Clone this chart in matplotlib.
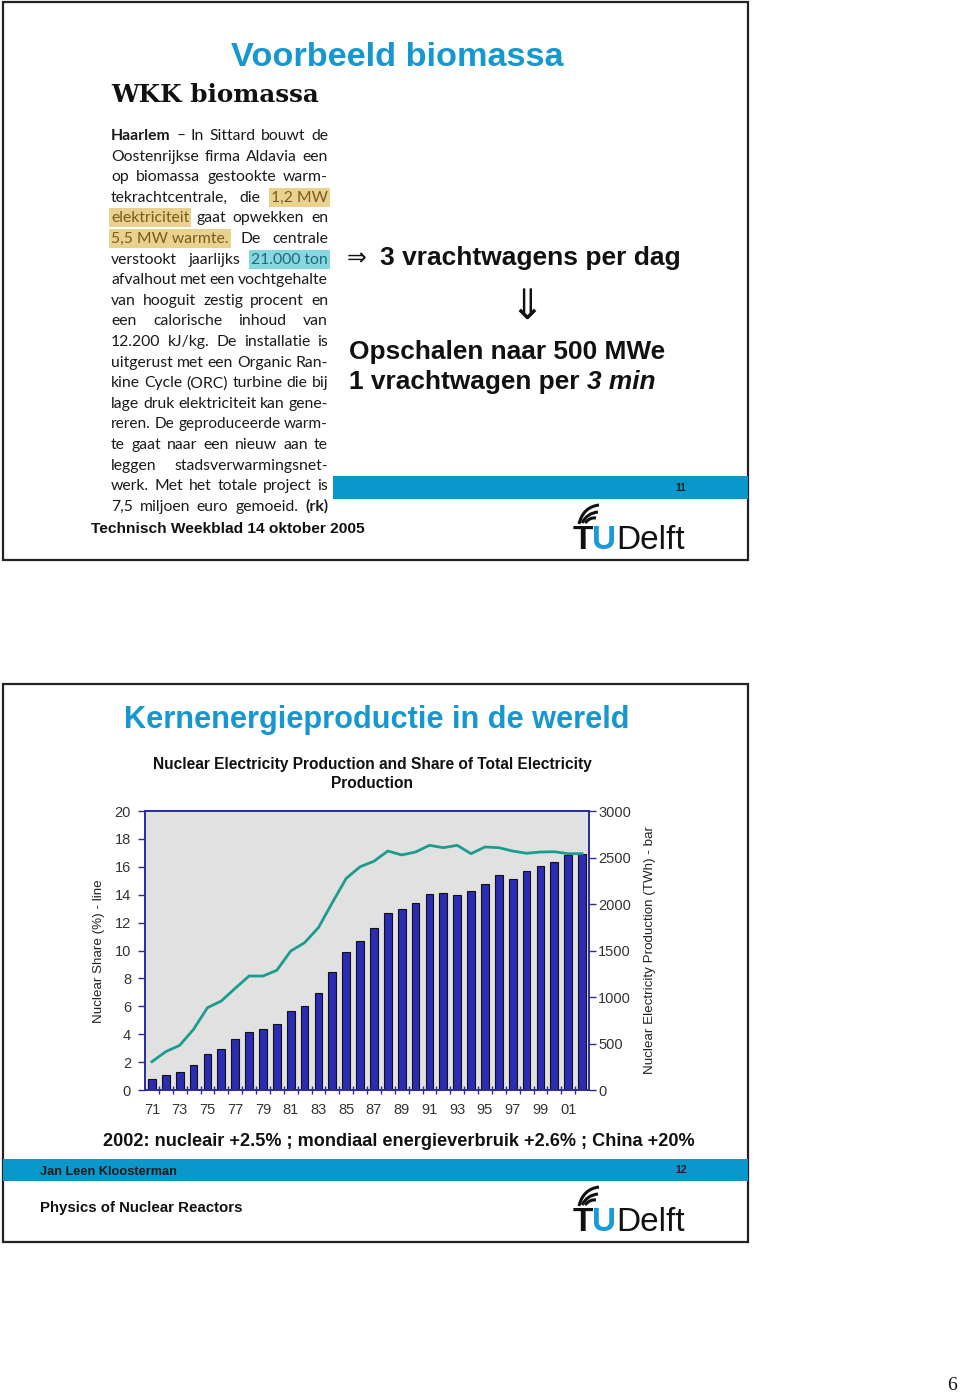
import matplotlib
matplotlib.use("Agg")
import matplotlib.pyplot as plt
from matplotlib.patches import Rectangle, PathPatch
from matplotlib.path import Path

# ---------------- data ----------------
years = list(range(1971, 2003))
production_twh = [115, 158, 197, 269, 387, 444, 545, 627, 656, 706, 853, 903,
                  1039, 1265, 1487, 1602, 1742, 1900, 1943, 2014, 2111, 2122,
                  2100, 2136, 2211, 2308, 2269, 2355, 2409, 2455, 2523, 2534]
share_pct = [2.03, 2.75, 3.2, 4.35, 5.9, 6.38, 7.29, 8.17, 8.17, 8.58, 9.96,
             10.56, 11.64, 13.43, 15.17, 16.0, 16.4, 17.13, 16.85, 17.06,
             17.54, 17.37, 17.54, 16.94, 17.42, 17.37, 17.13, 16.97, 17.06,
             17.08, 16.94, 16.94]
xtick_years = list(range(1971, 2002, 2))
xtick_labels = ["%02d" % (y % 100) for y in xtick_years]
left_ticks = list(range(0, 21, 2))
right_ticks = list(range(0, 3001, 500))

news_lines = [
    [("Haarlem", "b"), ("– In Sittard bouwt de", "n")],
    [("Oostenrijkse firma Aldavia een", "n")],
    [("op biomassa gestookte warm-", "n")],
    [("tekrachtcentrale, die", "n"), ("1,2 MW", "y")],
    [("elektriciteit", "y"), ("gaat opwekken en", "n")],
    [("5,5 MW warmte.", "y"), ("De centrale", "n")],
    [("verstookt jaarlijks", "n"), ("21.000 ton", "c")],
    [("afvalhout met een vochtgehalte", "n")],
    [("van hooguit zestig procent en", "n")],
    [("een calorische inhoud van", "n")],
    [("12.200 kJ/kg. De installatie is", "n")],
    [("uitgerust met een Organic Ran-", "n")],
    [("kine Cycle (ORC) turbine die bij", "n")],
    [("lage druk elektriciteit kan gene-", "n")],
    [("reren. De geproduceerde warm-", "n")],
    [("te gaat naar een nieuw aan te", "n")],
    [("leggen stadsverwarmingsnet-", "n")],
    [("werk. Met het totale project is", "n")],
    [("7,5 miljoen euro gemoeid.", "n"), ("(rk)", "b")],
]

BLUE = "#0a97cb"
TITLE_BLUE = "#1797cf"
SANS = ["Liberation Sans", "DejaVu Sans"]
NEWS = ["Lato", "DejaVu Sans"]

fig = plt.figure(figsize=(9.6, 13.94), dpi=100)
ax0 = fig.add_axes([0, 0, 1, 1])
ax0.set_xlim(0, 960)
ax0.set_ylim(1394, 0)
ax0.axis("off")
renderer = fig.canvas.get_renderer()


def width(t):
    return t.get_window_extent(renderer).width


def fit_text(x, y, s, target_w, ha="left", rot=0, **kw):
    t = ax0.text(x, y, s, ha=ha, va="center", **kw)
    w = width(t)
    t.set_fontsize(t.get_fontsize() * target_w / w)
    if rot:
        t.set_rotation(rot)
    return t


# ---------------- slide frames & bars ----------------
for y0 in (2, 684):
    ax0.add_patch(Rectangle((3, y0), 745, 558, fill=False, lw=1.6, ec="#222"))
ax0.add_patch(Rectangle((333, 476), 415, 23, fc=BLUE, ec="none"))
ax0.add_patch(Rectangle((3, 1159), 745, 22, fc=BLUE, ec="none"))

# ---------------- slide 1 ----------------
fit_text(397, 58, "Voorbeeld biomassa", 333, ha="center", fontsize=24,
         weight="bold", color=TITLE_BLUE, family=SANS)
fit_text(111, 95, "WKK biomassa", 208, fontsize=18, weight="heavy",
         color="#111", family=["DejaVu Serif"])

X0, X1 = 111, 328
probe = []
for toks in news_lines:
    s = " ".join(t for t, _ in toks)
    probe.append(ax0.text(0, 0, s, fontsize=10, family=NEWS))
widths = sorted(width(p) for p in probe)
for p in probe:
    p.remove()
ref_w = widths[int(len(widths) * 0.75)]
news_fs = 10 * (X1 - X0) / ref_w

for i, toks in enumerate(news_lines):
    y = 136 + i * 20.6
    units = []
    for txt, st in toks:
        if st in ("n", "b"):
            units += [(w, st) for w in txt.split()]
        else:
            units.append((txt, st))
    fs = news_fs
    for _ in range(6):
        objs = []
        for w, st in units:
            kw = dict(fontsize=fs, family=NEWS, va="center", ha="left",
                      color="#1a1a1a", zorder=3)
            if st == "b":
                kw["weight"] = "bold"
            if st == "y":
                kw["color"] = "#7a5a22"
            if st == "c":
                kw["color"] = "#1f6a74"
            t = ax0.text(0, y, w, **kw)
            objs.append((t, st, width(t)))
        total = sum(o[2] for o in objs)
        gap = (X1 - X0 - total) / max(len(objs) - 1, 1)
        if gap >= 3.2:
            break
        for o in objs:
            o[0].remove()
        fs *= 0.97
    x = X0
    for t, st, w in objs:
        t.set_x(x)
        if st == "y":
            ax0.add_patch(Rectangle((x - 2, y - 10), w + 4, 19, fc="#e8d28e",
                                    ec="none", zorder=2))
        if st == "c":
            ax0.add_patch(Rectangle((x - 2, y - 10), w + 4, 19, fc="#86d8e0",
                                    ec="none", zorder=2))
        x += w + gap

ax0.text(347, 258, "⇒", fontsize=17, family=["DejaVu Sans"], va="center",
         ha="left", color="#111")
fit_text(380, 258, "3 vrachtwagens per dag", 300, fontsize=16, weight="bold",
         color="#111", family=SANS)
ax0.text(527, 307, "⇓", fontsize=30, family=["DejaVu Sans"], va="center",
         ha="center", color="#111")
t_op = fit_text(349, 352, "Opschalen naar 500 MWe", 316, fontsize=16,
                weight="bold", color="#111", family=SANS)
fs_op = t_op.get_fontsize()
t_a = ax0.text(349, 382, "1 vrachtwagen per ", fontsize=fs_op, weight="bold",
               color="#111", family=SANS, va="center", ha="left")
ax0.text(349 + width(t_a), 382, "3 min", fontsize=fs_op, weight="bold",
         style="italic", color="#111", family=SANS, va="center", ha="left")

fit_text(91, 529, "Technisch Weekblad 14 oktober 2005", 273, fontsize=10,
         weight="bold", color="#111", family=SANS)
ax0.text(681, 488, "11", fontsize=7.5, weight="bold", color="#222",
         family=SANS, ha="center", va="center")


def logo(x, base):
    tT = ax0.text(x, base, "T", fontsize=24, weight="bold", color="#111",
                  family=SANS, ha="left", va="baseline")
    wT = width(tT)
    tU = ax0.text(x + wT - 1, base, "U", fontsize=24, weight="bold",
                  color="#1a9bd7", family=SANS, ha="left", va="baseline")
    wU = width(tU)
    ax0.text(x + wT + wU - 1, base, "Delft", fontsize=24, color="#111",
             family=SANS, ha="left", va="baseline")
    top = base - 45
    for (p0, p1, p2) in [((x + 6, top + 20), (x + 10, top + 3), (x + 26, top + 1)),
                         ((x + 9, top + 19), (x + 14, top + 9), (x + 25, top + 8)),
                         ((x + 12, top + 19), (x + 17, top + 13), (x + 23, top + 14))]:
        path = Path([p0, p1, p2], [Path.MOVETO, Path.CURVE3, Path.CURVE3])
        ax0.add_patch(PathPatch(path, fc="none", ec="#111", lw=2.2))


logo(573, 549)

# ---------------- slide 2 ----------------
fit_text(377, 720, "Kernenergieproductie in de wereld", 505, ha="center",
         fontsize=22, weight="bold", color=TITLE_BLUE, family=SANS)
t_ct = fit_text(372, 764,
                "Nuclear Electricity Production and Share of Total Electricity",
                439, ha="center", fontsize=10, weight="bold", color="#111",
                family=SANS)
ax0.text(372, 783, "Production", fontsize=t_ct.get_fontsize(), weight="bold",
         color="#111", family=SANS, ha="center", va="center")

fit_text(99, 951, "Nuclear Share (%) - line", 142, ha="center", rot=90,
         fontsize=8.5, color="#222", family=SANS)
fit_text(650, 950, "Nuclear Electricity Production (TWh) - bar", 247,
         ha="center", rot=90, fontsize=8.5, color="#222", family=SANS)

fit_text(103, 1142,
         "2002: nucleair +2.5% ; mondiaal energieverbruik +2.6% ; China +20%",
         589, fontsize=12, weight="bold", color="#111", family=SANS)
fit_text(40, 1172, "Jan Leen Kloosterman", 138, fontsize=8, weight="bold",
         color="#1a1a1a", family=SANS)
ax0.text(681, 1170, "12", fontsize=7.5, weight="bold", color="#222",
         family=SANS, ha="center", va="center")
fit_text(40, 1208, "Physics of Nuclear Reactors", 202, fontsize=10,
         weight="bold", color="#111", family=SANS)
logo(573, 1231)

ax0.text(952, 1385, "6", fontsize=14, family=["Liberation Serif"],
         color="#111", ha="center", va="center")

# ---------------- chart ----------------
NAVY = "#2a2a9c"
ax = fig.add_axes([145 / 960, 1 - 1090 / 1394, 444 / 960, 279 / 1394])
ax.set_facecolor("#e1e1e1")
ax2 = ax.twinx()

ax.bar(years, production_twh, width=0.55, color="#2b2bb3", edgecolor="#111",
       linewidth=0.8, zorder=2)
ax.set_ylim(0, 3000)
ax.set_xlim(1970.5, 2002.5)
ax.set_xticks(xtick_years)
ax.set_xticklabels(xtick_labels)
ax.set_xticks([y + 0.5 for y in years[:-1]], minor=True)
ax.tick_params(axis="x", which="major", length=0, pad=9, labelsize=10.5,
               labelcolor="#333")
ax.tick_params(axis="x", which="minor", length=6, direction="inout",
               color=NAVY, width=1)
ax.set_yticks(right_ticks)
ax.set_yticklabels([str(v) for v in right_ticks])
ax.yaxis.tick_right()
ax.tick_params(axis="y", which="both", left=False, labelleft=False,
               right=True, labelright=True, length=5, direction="out",
               color=NAVY, width=1, pad=1.5, labelsize=10.5, labelcolor="#333")

ax2.plot(years, share_pct, color="#1b9c8c", lw=2.0, zorder=3)
ax2.set_ylim(0, 20)
ax2.set_yticks(left_ticks)
ax2.set_yticklabels([str(v) for v in left_ticks])
ax2.yaxis.tick_left()
ax2.tick_params(axis="y", which="both", right=False, labelright=False,
                left=True, labelleft=True, length=5, direction="out",
                color=NAVY, width=1, pad=5, labelsize=10.5, labelcolor="#333")

for a in (ax, ax2):
    for sp in a.spines.values():
        sp.set_color(NAVY)
        sp.set_linewidth(1.2)
for lab in ax.get_xticklabels() + ax.get_yticklabels() + ax2.get_yticklabels():
    lab.set_family(SANS)

fig.savefig("out.png", dpi=100)
